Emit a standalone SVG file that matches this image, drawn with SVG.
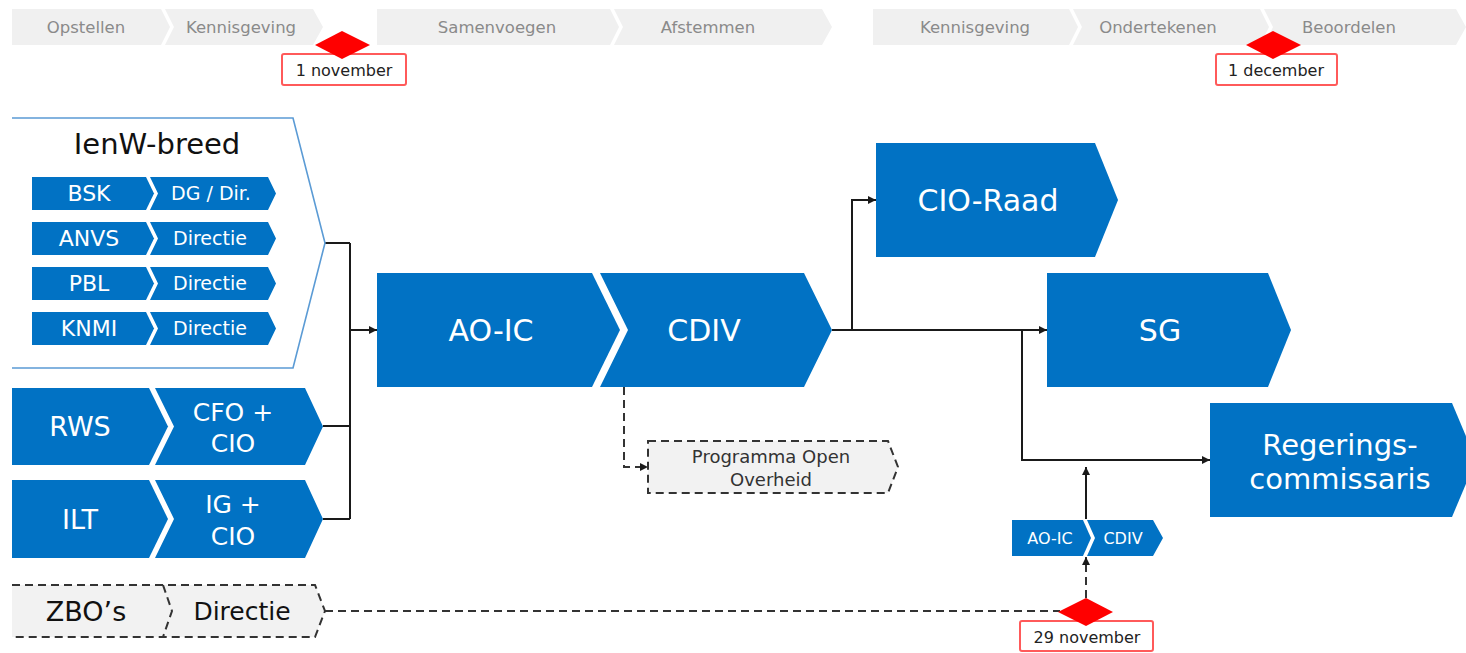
<svg xmlns="http://www.w3.org/2000/svg" width="1466" height="653" viewBox="0 0 1466 653">
<defs>
<style>
text{font-family:"DejaVu Sans","Verdana",sans-serif;text-anchor:middle}
.bar{fill:#f0f0f0}
.bart{font-size:16.5px;fill:#8a8a8a}
.blue{fill:#0172c4}
.wt{fill:#ffffff}
.dash{fill:#f2f2f2;stroke:#333;stroke-width:2;stroke-dasharray:8 5}
.dashline{fill:none;stroke:#333;stroke-width:2;stroke-dasharray:8 5}
.con{fill:none;stroke:#1a1a1a;stroke-width:2}
.dia{fill:#ff0000}
.lbl{fill:#fff;stroke:#ff5a5a;stroke-width:2}
.lblt{font-size:16px;fill:#222}
</style>
<marker id="arr" viewBox="0 0 10 10" refX="10" refY="5" markerWidth="8" markerHeight="8" markerUnits="userSpaceOnUse" orient="auto"><path d="M0,0 L10,5 L0,10 z" fill="#1a1a1a"/></marker>
</defs>
<rect width="1466" height="653" fill="#ffffff"/>

<g id="phases">
<polygon class="bar" points="12,9 161,9 170,27 161,45 12,45"/>
<polygon class="bar" points="165,9 313,9 323,27 313,45 165,45 174,27"/>
<text class="bart" x="86" y="33">Opstellen</text>
<text class="bart" x="241" y="33">Kennisgeving</text>
<polygon class="bar" points="377,9 610,9 619,27 610,45 377,45"/>
<polygon class="bar" points="614,9 822,9 832,27 822,45 614,45 623,27"/>
<text class="bart" x="497" y="33">Samenvoegen</text>
<text class="bart" x="708" y="33">Afstemmen</text>
<polygon class="bar" points="873,9 1069,9 1078,27 1069,45 873,45"/>
<polygon class="bar" points="1073,9 1260,9 1269,27 1260,45 1073,45 1082,27"/>
<polygon class="bar" points="1264,9 1456,9 1466,27 1456,45 1264,45 1273,27"/>
<text class="bart" x="975" y="33">Kennisgeving</text>
<text class="bart" x="1158" y="33">Ondertekenen</text>
<text class="bart" x="1349" y="33">Beoordelen</text>
</g>

<g id="milestone-1nov">
<rect class="lbl" x="282" y="54" width="124" height="31" rx="2"/>
<polygon class="dia" points="342,31 370,45 342,59 315,45"/>
<text class="lblt" x="344" y="76">1 november</text>
</g>
<g id="milestone-1dec">
<rect class="lbl" x="1216" y="54" width="121" height="31" rx="2"/>
<polygon class="dia" points="1273,31 1301,45 1273,59 1246,45"/>
<text class="lblt" x="1276" y="76">1 december</text>
</g>

<g id="connectors">
<path class="con" d="M325,243 H350 M323,426 H350 M323,519 H350 M350,243 V519"/>
<path class="con" d="M350,330 H377" marker-end="url(#arr)"/>
<path class="con" d="M832,330 H1047" marker-end="url(#arr)"/>
<path class="con" d="M852,330 V200 H876" marker-end="url(#arr)"/>
<path class="con" d="M1022,330 V460 H1210" marker-end="url(#arr)"/>
<path class="con" d="M1086,519 V467" marker-end="url(#arr)"/>
<path class="dashline" d="M325,611 H1060"/>
<path class="dashline" d="M1086,598 V557" marker-end="url(#arr)"/>
<path class="dashline" d="M624,387 V467 H648" marker-end="url(#arr)"/>
</g>

<g id="ienw-breed">
<path d="M12,118 H293 L325,243 L293,368 H12" fill="#ffffff" stroke="#5b9bd5" stroke-width="1.6"/>
<text x="157" y="154" style="font-size:29px;fill:#111">IenW-breed</text>
</g>
<g id="bsk">
<polygon class="blue" points="32,177 146,177 154,193.5 146,210 32,210"/>
<polygon class="blue" points="150,177 268,177 276,193.5 268,210 150,210 158,193.5"/>
<text class="wt" x="89" y="201" style="font-size:22px">BSK</text>
<text class="wt" x="211" y="200" style="font-size:19px">DG / Dir.</text>
</g>
<g id="anvs">
<polygon class="blue" points="32,222 146,222 154,238.5 146,255 32,255"/>
<polygon class="blue" points="150,222 268,222 276,238.5 268,255 150,255 158,238.5"/>
<text class="wt" x="89" y="246" style="font-size:22px">ANVS</text>
<text class="wt" x="210" y="245" style="font-size:19px">Directie</text>
</g>
<g id="pbl">
<polygon class="blue" points="32,267 146,267 154,283.5 146,300 32,300"/>
<polygon class="blue" points="150,267 268,267 276,283.5 268,300 150,300 158,283.5"/>
<text class="wt" x="89" y="291" style="font-size:22px">PBL</text>
<text class="wt" x="210" y="290" style="font-size:19px">Directie</text>
</g>
<g id="knmi">
<polygon class="blue" points="32,312 146,312 154,328.5 146,345 32,345"/>
<polygon class="blue" points="150,312 268,312 276,328.5 268,345 150,345 158,328.5"/>
<text class="wt" x="89" y="336" style="font-size:22px">KNMI</text>
<text class="wt" x="210" y="335" style="font-size:19px">Directie</text>
</g>

<g id="rws">
<polygon class="blue" points="12,388 149,388 168,426.5 149,465 12,465"/>
<polygon class="blue" points="155,388 305,388 323,426.5 305,465 155,465 174,426.5"/>
<text class="wt" x="80" y="436" style="font-size:27px">RWS</text>
<text class="wt" x="233" y="421" style="font-size:25px">CFO +</text>
<text class="wt" x="233" y="452" style="font-size:25px">CIO</text>
</g>
<g id="ilt">
<polygon class="blue" points="12,480 149,480 168,519 149,558 12,558"/>
<polygon class="blue" points="155,480 305,480 323,519 305,558 155,558 174,519"/>
<text class="wt" x="80" y="529" style="font-size:27px">ILT</text>
<text class="wt" x="233" y="513" style="font-size:25px">IG +</text>
<text class="wt" x="233" y="545" style="font-size:25px">CIO</text>
</g>
<g id="zbo">
<polygon points="12,585 315,585 325,611 315,637 12,637" fill="#f2f2f2"/>
<path class="dashline" d="M12,585 H315 L325,611 L315,637 H12 M163,585 L172,611 L163,637"/>
<text x="86" y="621" style="font-size:27px;fill:#111">ZBO’s</text>
<text x="242" y="620" style="font-size:25px;fill:#111">Directie</text>
</g>

<g id="aoic-cdiv">
<polygon class="blue" points="377,273 592,273 620,330 592,387 377,387"/>
<polygon class="blue" points="600,273 804,273 832,330 804,387 600,387 628,330"/>
<text class="wt" x="491" y="341" style="font-size:30px">AO-IC</text>
<text class="wt" x="704" y="341" style="font-size:30px">CDIV</text>
</g>
<g id="programma-open-overheid">
<polygon class="dash" points="648,441 888,441 898,467 888,493 648,493"/>
<text x="771" y="463" style="font-size:18px;fill:#333">Programma Open</text>
<text x="771" y="486" style="font-size:18px;fill:#333">Overheid</text>
</g>
<g id="cio-raad">
<polygon class="blue" points="876,143 1095,143 1118,200 1095,257 876,257"/>
<text class="wt" x="988" y="211" style="font-size:30px">CIO-Raad</text>
</g>
<g id="sg">
<polygon class="blue" points="1047,273 1268,273 1291,330 1268,387 1047,387"/>
<text class="wt" x="1160" y="341" style="font-size:30px">SG</text>
</g>
<g id="regeringscommissaris">
<polygon class="blue" points="1210,403 1452,403 1476,460 1452,517 1210,517"/>
<text class="wt" x="1340" y="455" style="font-size:29px">Regerings-</text>
<text class="wt" x="1340" y="489" style="font-size:29px">commissaris</text>
</g>
<g id="aoic-cdiv-small">
<polygon class="blue" points="1012,520 1083,520 1091,538 1083,556 1012,556"/>
<polygon class="blue" points="1087,520 1153,520 1163,538 1153,556 1087,556 1095,538"/>
<text class="wt" x="1050" y="544" style="font-size:16px">AO-IC</text>
<text class="wt" x="1123" y="544" style="font-size:16px">CDIV</text>
</g>
<g id="milestone-29nov">
<rect class="lbl" x="1020" y="621" width="133" height="30" rx="2"/>
<polygon class="dia" points="1086,598 1113,612 1086,626 1058,612"/>
<text class="lblt" x="1087" y="643">29 november</text>
</g>
</svg>
